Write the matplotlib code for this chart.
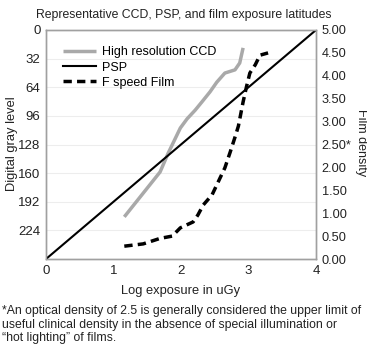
import matplotlib
matplotlib.use("Agg")
import matplotlib.pyplot as plt

plt.rcParams['font.family'] = ['Liberation Sans', 'DejaVu Sans']

# ---- data ----
title = "Representative CCD, PSP, and film exposure latitudes"
gray_ticks = [0, 32, 64, 96, 128, 160, 192, 224]
density_ticks = [0.0, 0.5, 1.0, 1.5, 2.0, 2.5, 3.0, 3.5, 4.0, 4.5, 5.0]
density_labels = ["0.00", "0.50", "1.00", "1.50", "2.00", "2.50*", "3.00",
                  "3.50", "4.00", "4.50", "5.00"]
x_ticks = [0, 1, 2, 3, 4]

ccd_x = [1.16, 1.69, 1.81, 1.99, 2.09, 2.21, 2.31, 2.43, 2.53, 2.65, 2.80, 2.87, 2.92]
ccd_d = [0.92, 1.90, 2.31, 2.86, 3.06, 3.25, 3.43, 3.65, 3.86, 4.06, 4.13, 4.28, 4.61]

psp_x = [0, 4]
psp_d = [0.0, 5.0]

film_x = [1.16, 1.44, 1.69, 1.87, 1.99, 2.18, 2.25, 2.33, 2.46, 2.55, 2.65, 2.73,
          2.80, 2.85, 2.92, 2.97, 3.02, 3.10, 3.17, 3.29]
film_d = [0.28, 0.33, 0.45, 0.50, 0.68, 0.81, 0.96, 1.18, 1.40, 1.68, 1.99, 2.34,
          2.66, 2.90, 3.43, 3.76, 4.06, 4.24, 4.45, 4.50]

footnote = ("*An optical density of 2.5 is generally considered the upper limit of\n"
            "useful clinical density in the absence of special illumination or\n"
            "\u201chot lighting\u201d of films.")

W, H = 367, 354
fig = plt.figure(figsize=(W / 100, H / 100), dpi=100)
L, R, T, B = 46, 316, 30, 259
ax = fig.add_axes([L / W, 1 - B / H, (R - L) / W, (B - T) / H])
ax.set_xlim(0, 4)
ax.set_ylim(256, 0)
ax.set_yticks(gray_ticks)
ax.set_xticks(x_ticks)
ax.tick_params(length=0, labelsize=9.5, colors='#222222', pad=4)
for y in gray_ticks[1:]:
    ax.axhline(y, color='#ededed', lw=0.8, zorder=0)
for s in ax.spines.values():
    s.set_color('#a0a0a0')
    s.set_linewidth(1.0)

ax2 = ax.twinx()
ax2.set_ylim(0, 5)
ax2.set_yticks(density_ticks)
ax2.set_yticklabels(density_labels)
ax2.tick_params(length=0, labelsize=9.2, colors='#222222', pad=4)
for s in ax2.spines.values():
    s.set_color('#a0a0a0')
    s.set_linewidth(1.0)

ax2.plot(ccd_x, ccd_d, color='#a9a9a9', lw=2.5, label='High resolution CCD',
         solid_capstyle='butt')
ax2.plot(psp_x, psp_d, color='black', lw=1.5, label='PSP')
ax2.plot(film_x, film_d, color='black', lw=2.5, linestyle=(0, (2.4, 1.5)),
         label='F speed Film')

leg = ax2.legend(loc='upper left', bbox_to_anchor=(0.045, 0.95), frameon=False,
                 fontsize=9, handlelength=2.6, handletextpad=0.5,
                 labelspacing=0.25, borderaxespad=0)

fig.text(0.5, 1 - 15 / H, title, ha='center', va='center', fontsize=8.8,
         color='#222222')
fig.text(12 / W, 1 - 144 / H, "Digital gray level", rotation=90, ha='center',
         va='center', fontsize=9.3, color='#222222')
fig.text(361 / W, 1 - 143 / H, "Film density", rotation=270, ha='center',
         va='center', fontsize=9, color='#222222')
fig.text(181 / W, 1 - 291 / H, "Log exposure in uGy", ha='center', va='center',
         fontsize=9.3, color='#222222')
fig.text(2 / W, 1 - 305 / H, footnote, ha='left', va='top', fontsize=8.85,
         linespacing=1.17, color='#222222')

fig.savefig("out.png", dpi=100)
